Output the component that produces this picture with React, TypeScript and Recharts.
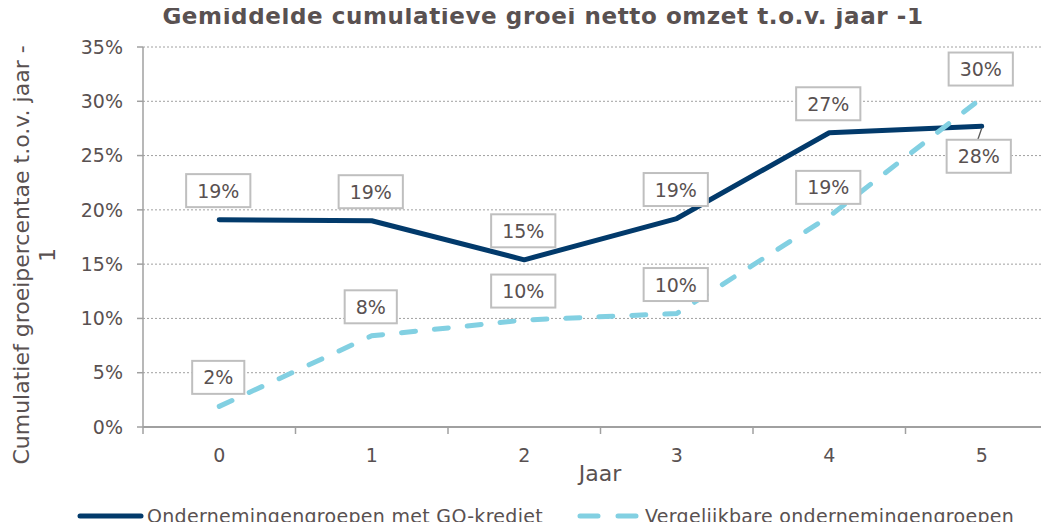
import React from "react";
import {
  LineChart,
  Line,
  XAxis,
  YAxis,
  CartesianGrid,
  LabelList,
  Legend,
  Label,
} from "recharts";

const categories = ["0", "1", "2", "3", "4", "5"];
const goKrediet = [19.1, 19.0, 15.4, 19.2, 27.1, 27.7];
const vergelijkbaar = [1.9, 8.4, 9.85, 10.45, 19.4, 30.3];
const yTicks = [0, 5, 10, 15, 20, 25, 30, 35];

const seriesNames = [
  "Ondernemingengroepen met GO-krediet",
  "Vergelijkbare ondernemingengroepen",
];

const data = categories.map((c, i) => ({
  x: i,
  name: c,
  go: goKrediet[i],
  verg: vergelijkbaar[i],
}));

// category centres get a label, the half steps between them get a tick mark
const xTicks = [-0.5, ...categories.flatMap((_, i) => [i, i + 0.5])];

const FONT = "'DejaVu Sans', Verdana, sans-serif";
const FS = 19;
const TITLE_FS = 22;
const TEXT = "#595151";
const AXIS = "#a0a0a0";
const NAVY = "#023a6b";
const CYAN = "#82d0e2";

// label indexes that sit below the point instead of above
const solidBelow = [5];

function textWidth(s: string) {
  let w = 0;
  for (const ch of s) w += ch === "%" ? 0.95 * FS : 0.636 * FS;
  return w;
}

function makeLabel(below: number[]) {
  return (props: any) => {
    const { x, y, value, index } = props;
    const txt = `${Math.round(Number(value))}%`;
    const w = textWidth(txt) + 22;
    const h = 33;
    const isBelow = below.includes(index);
    const cx = isBelow ? x - 3 : x - 1;
    const cy = isBelow ? y + 30 : y - 29;
    return (
      <g>
        {isBelow && (
          <line x1={x} y1={y + 2} x2={cx - 1} y2={cy - h / 2} stroke="#595959" strokeWidth={1.3} />
        )}
        <rect
          x={cx - w / 2}
          y={cy - h / 2}
          width={w}
          height={h}
          fill="#ffffff"
          stroke="#bfbfbf"
          strokeWidth={2}
        />
        <text x={cx} y={cy + 7} textAnchor="middle" fontSize={FS} fontFamily={FONT} fill={TEXT}>
          {txt}
        </text>
      </g>
    );
  };
}

function XTick(p: any) {
  const v = p.payload.value;
  if (Number.isInteger(v)) {
    return (
      <text x={p.x} y={p.y + 35} textAnchor="middle" fontSize={FS} fontFamily={FONT} fill={TEXT}>
        {categories[v]}
      </text>
    );
  }
  return <line x1={p.x} y1={p.y} x2={p.x} y2={p.y + 7} stroke={AXIS} strokeWidth={1.5} />;
}

function LegendContent() {
  return (
    <div
      style={{
        display: "flex",
        alignItems: "center",
        height: 26,
        lineHeight: "26px",
        fontFamily: FONT,
        fontSize: FS,
        letterSpacing: 0.3,
        color: TEXT,
        paddingLeft: 77,
        whiteSpace: "nowrap",
      }}
    >
      <svg width={70} height={12}>
        <line x1={3} y1={6} x2={64} y2={6} stroke={NAVY} strokeWidth={5} strokeLinecap="round" />
      </svg>
      <span>{seriesNames[0]}</span>
      <svg width={68} height={12} style={{ marginLeft: 34 }}>
        <line
          x1={3}
          y1={6}
          x2={62}
          y2={6}
          stroke={CYAN}
          strokeWidth={5}
          strokeLinecap="round"
          strokeDasharray="18 20"
        />
      </svg>
      <span>{seriesNames[1]}</span>
    </div>
  );
}

export default function App() {
  return (
    <div
      style={{
        position: "relative",
        width: 1049,
        height: 530,
        margin: -8,
        overflow: "hidden",
        fontFamily: FONT,
        background: "#fff",
      }}
    >
      <div
        style={{
          position: "absolute",
          top: 3,
          left: 0,
          width: 1086,
          textAlign: "center",
          fontSize: 23,
          letterSpacing: 0.6,
          fontWeight: "bold",
          color: TEXT,
          whiteSpace: "nowrap",
          zIndex: 2,
        }}
      >
        Gemiddelde cumulatieve groei netto omzet t.o.v. jaar -1
      </div>
      <LineChart
        width={1062}
        height={530}
        data={data}
        margin={{ top: 47, right: 4, bottom: 102, left: 142 }}
      >
        <CartesianGrid horizontal vertical={false} stroke={AXIS} strokeDasharray="2 2" />
        <XAxis
          dataKey="x"
          type="number"
          domain={[-0.5, categories.length - 0.5]}
          ticks={xTicks}
          allowDataOverflow
          height={1}
          interval={0}
          axisLine={{ stroke: AXIS, strokeWidth: 2 }}
          tickLine={false}
          tickSize={0}
          tickMargin={0}
          tick={XTick}
        >
          <Label
            content={() => (
              <text x={600} y={481} textAnchor="middle" fontSize={TITLE_FS} fontFamily={FONT} fill={TEXT}>
                Jaar
              </text>
            )}
          />
        </XAxis>
        <YAxis
          domain={[0, 35]}
          ticks={yTicks}
          width={1}
          interval={0}
          axisLine={{ stroke: AXIS, strokeWidth: 1.5 }}
          tickLine={{ stroke: AXIS, strokeWidth: 1.5 }}
          tickSize={6}
          tickMargin={14}
          tickFormatter={(v: number) => `${v}%`}
          tick={{ fontSize: FS, fill: TEXT, fontFamily: FONT }}
        >
          <Label
            content={() => (
              <text
                transform="translate(0,255) rotate(-90)"
                textAnchor="middle"
                fontSize={TITLE_FS}
                fontFamily={FONT}
                fill={TEXT}
              >
                <tspan x={0} y={29}>Cumulatief groeipercentae t.o.v. jaar -</tspan>
                <tspan x={0} y={55}>1</tspan>
              </text>
            )}
          />
        </YAxis>
        <Legend
          layout="horizontal"
          verticalAlign="middle"
          align="center"
          wrapperStyle={{ top: 503, left: 0, width: 1049, height: 26 }}
          content={() => <LegendContent />}
        />
        <Line
          dataKey="go"
          name={seriesNames[0]}
          stroke={NAVY}
          strokeWidth={5}
          strokeLinecap="round"
          strokeLinejoin="round"
          dot={false}
          activeDot={false}
          isAnimationActive={false}
        >
          <LabelList dataKey="go" content={makeLabel(solidBelow)} />
        </Line>
        <Line
          dataKey="verg"
          name={seriesNames[1]}
          stroke={CYAN}
          strokeWidth={5}
          strokeLinecap="round"
          strokeDasharray="14 19"
          dot={false}
          activeDot={false}
          isAnimationActive={false}
        >
          <LabelList dataKey="verg" content={makeLabel([])} />
        </Line>
      </LineChart>
    </div>
  );
}
